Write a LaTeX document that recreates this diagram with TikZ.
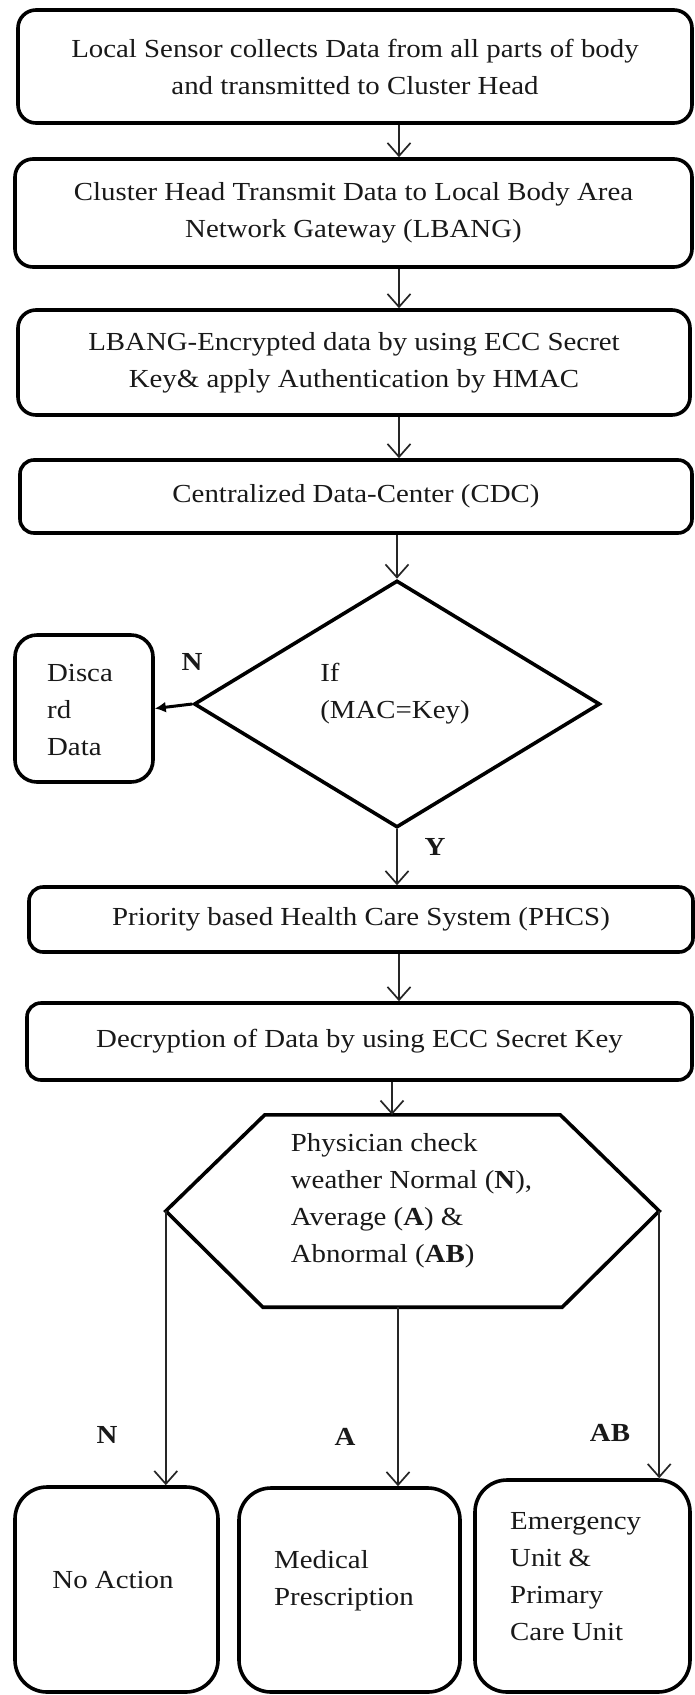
\documentclass[tikz,border=0pt]{standalone}
\usepackage{fontspec}
\setmainfont{Liberation Serif}[FakeStretch=1.11]
\usetikzlibrary{arrows.meta,shapes.geometric}
\begin{document}
\begin{tikzpicture}[x=1pt,y=-1pt,
  every node/.style={inner sep=0pt, text=black!90, font=\fontsize{26}{37}\selectfont},
  box/.style={draw=black, line width=3.6pt, rounded corners=#1, align=center},
  box/.default=16pt,
  arr/.style={draw=black!85, line width=1.7pt, -{Straight Barb[length=13pt,width=23pt]}},
  lbl/.style={font=\fontsize{26}{30}\selectfont\bfseries},
  txt/.style={align=left},
]
\useasboundingbox (0,0) rectangle (694,1695);
\fill[white] (0,0) rectangle (694,1695);

% main column
\node[box=18pt, minimum width=674pt, minimum height=113pt] (b1) at (355,66.5)
  {Local Sensor collects Data from all parts of body\\and transmitted to Cluster Head};
\node[box=18pt, minimum width=677pt, minimum height=108pt] (b2) at (353.5,213)
  {Cluster Head Transmit Data to Local Body Area\\Network Gateway (LBANG)};
\node[box=18pt, minimum width=672pt, minimum height=105pt] (b3) at (354,362.5)
  {LBANG-Encrypted data by using ECC Secret\\Key\& apply Authentication by HMAC};
\node[box=14pt, minimum width=672pt, minimum height=73pt] (b4) at (356,496.5)
  {Centralized Data-Center (CDC)};

\node[draw=black, diamond, line width=3.6pt, minimum width=406pt, minimum height=247pt, aspect=1.64] (dia) at (397,704) {};
\node[txt] (diatxt) at (395,693.5) {If\\(MAC=Key)};

\node[box=22pt, minimum width=138pt, minimum height=147pt] (disc) at (84,708.5) {};
\node[txt] (disctxt) at (80,710) {Disca\\rd\\Data};

\node[box=14pt, minimum width=664pt, minimum height=65pt] (phcs) at (361,919.5)
  {Priority based Health Care System (PHCS)};
\node[box=14pt, minimum width=665pt, minimum height=77pt] (dec) at (359.5,1041.5)
  {Decryption of Data by using ECC Secret Key};

% hexagon (outline drawn from the node's anchors)
\node[minimum width=493pt, minimum height=192pt] (hex) at (412.5,1211) {};
\draw[line width=3.6pt, line join=miter] (hex.west) -- ([xshift=99pt]hex.north west)
  -- ([xshift=-99pt]hex.north east) -- (hex.east) -- ([xshift=-97pt]hex.south east)
  -- ([xshift=97pt]hex.south west) -- cycle;
\node[txt] (hextxt) at (411.5,1201)
  {Physician check\\weather Normal (\textbf{N}),\\Average (\textbf{A}) \&\\Abnormal (\textbf{AB})};

\node[box=32pt, minimum width=203pt, minimum height=205pt] (noact) at (116.5,1589.5) {};
\node (noacttxt) at (113,1580) {No Action};
\node[box=32pt, minimum width=221pt, minimum height=204pt] (med) at (349.5,1590) {};
\node[txt, anchor=west] (medtxt) at (274,1581) {Medical\\Prescription};
\node[box=32pt, minimum width=215pt, minimum height=212pt] (emg) at (582.5,1586) {};
\node[txt, anchor=west] (emgtxt) at (510,1576.5) {Emergency\\Unit \&\\Primary\\Care Unit};

% connectors
\coordinate (ax) at (399,0);
\coordinate (ax2) at (392,0);
\draw[arr] (b1.south -| ax) -- (b2.north -| ax);
\draw[arr] (b2.south -| ax) -- (b3.north -| ax);
\draw[arr] (b3.south -| ax) -- (b4.north -| ax);
\draw[arr] (b4.south -| dia.north) -- (dia.north);
\draw[draw=black, line width=3pt, -{Latex[length=11pt,width=11pt]}] (dia.west) -- (disc.east);
\draw[arr] (dia.south) -- (dia.south |- phcs.north);
\draw[arr] (phcs.south -| ax) -- (dec.north -| ax);
\draw[arr] (dec.south -| ax2) -- (hex.north -| ax2);
\draw[arr] (hex.west) -- (hex.west |- noact.north);
\coordinate (hm) at ([xshift=-14.5pt]hex.south);
\draw[arr] (hm) -- (hm |- med.north);
\draw[arr] (hex.east) -- (hex.east |- emg.north);

% labels
\node[lbl] (lN) at (192,662) {N};
\node[lbl] (lY) at (435,847) {Y};
\node[lbl] (lN2) at (107,1435) {N};
\node[lbl] (lA) at (345,1437) {A};
\node[lbl] (lAB) at (610,1433) {AB};
\end{tikzpicture}
\end{document}
